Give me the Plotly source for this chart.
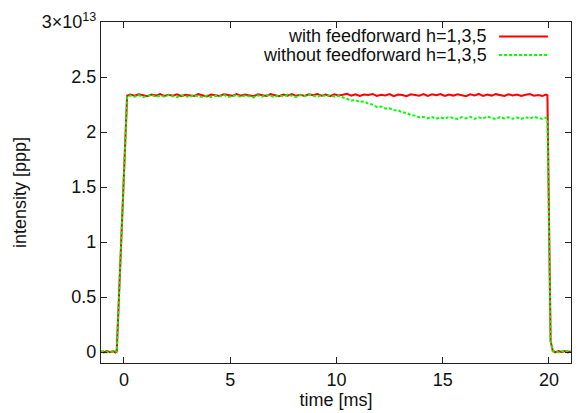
import plotly.graph_objects as go

# time axis [ms]
t_pre = [-1.08, -0.95, -0.8, -0.65, -0.5, -0.4, -0.34]
t_rise = [0.15]
t_plateau = [0.3, 0.5, 0.7, 0.9, 1.1, 1.3, 1.5, 1.7, 1.9, 2.1,
             2.3, 2.5, 2.7, 2.9, 3.1, 3.3, 3.5, 3.7, 3.9, 4.1,
             4.3, 4.5, 4.7, 4.9, 5.1, 5.3, 5.5, 5.7, 5.9, 6.1,
             6.3, 6.5, 6.7, 6.9, 7.1, 7.3, 7.5, 7.7, 7.9, 8.1,
             8.3, 8.5, 8.7, 8.9, 9.1, 9.3, 9.5, 9.7, 9.9, 10.1,
             10.3, 10.5, 10.7, 10.9, 11.1, 11.3, 11.5, 11.7, 11.9, 12.1,
             12.3, 12.5, 12.7, 12.9, 13.1, 13.3, 13.5, 13.7, 13.9, 14.1,
             14.3, 14.5, 14.7, 14.9, 15.1, 15.3, 15.5, 15.7, 15.9, 16.1,
             16.3, 16.5, 16.7, 16.9, 17.1, 17.3, 17.5, 17.7, 17.9, 18.1,
             18.3, 18.5, 18.7, 18.9, 19.1, 19.3, 19.5, 19.7]
t_end = [19.85, 19.93]
t_fall = [20.08, 20.18, 20.3, 20.45, 20.6, 20.75, 20.9, 21.04]
time_ms = t_pre + t_rise + t_plateau + t_end + t_fall

# intensity in units of 1e13 ppp
with_ff = ([0.005, -0.004, 0.009, -0.002, 0.007, -0.005, 0.002]
           + [2.33]
           + [2.340, 2.329, 2.343, 2.332, 2.326, 2.341, 2.331, 2.344, 2.327, 2.338,
              2.330, 2.342, 2.325, 2.339, 2.334, 2.328, 2.344, 2.331, 2.324, 2.340,
              2.336, 2.327, 2.342, 2.338, 2.329, 2.345, 2.330, 2.340, 2.332, 2.325,
              2.343, 2.336, 2.328, 2.344, 2.337, 2.326, 2.341, 2.331, 2.345, 2.329,
              2.339, 2.327, 2.343, 2.334, 2.346, 2.330, 2.340, 2.326, 2.343, 2.333,
              2.339, 2.347, 2.331, 2.343, 2.327, 2.341, 2.336, 2.346, 2.328, 2.339,
              2.333, 2.344, 2.326, 2.341, 2.337, 2.326, 2.343, 2.338, 2.330, 2.345,
              2.328, 2.342, 2.335, 2.345, 2.327, 2.340, 2.331, 2.343, 2.336, 2.325,
              2.342, 2.333, 2.346, 2.328, 2.340, 2.331, 2.344, 2.336, 2.327, 2.343,
              2.332, 2.340, 2.328, 2.339, 2.345, 2.330, 2.337, 2.327]
           + [2.341, 2.334]
           + [0.1, 0.012, -0.004, 0.008, -0.002, 0.009, -0.003, 0.005])

without_ff = ([0.002, 0.009, -0.004, 0.008, -0.001, 0.010, 0.0]
              + [2.325]
              + [2.332, 2.321, 2.336, 2.317, 2.328, 2.339, 2.319, 2.331, 2.324, 2.336,
                 2.325, 2.316, 2.334, 2.327, 2.318, 2.337, 2.322, 2.320, 2.332, 2.316,
                 2.329, 2.323, 2.338, 2.318, 2.327, 2.335, 2.319, 2.331, 2.324, 2.315,
                 2.334, 2.321, 2.339, 2.326, 2.317, 2.336, 2.323, 2.340, 2.329, 2.318,
                 2.337, 2.325, 2.341, 2.328, 2.320, 2.338, 2.326, 2.333, 2.322, 2.328,
                 2.314, 2.304, 2.287, 2.290, 2.273, 2.278, 2.258, 2.249, 2.228, 2.232,
                 2.213, 2.216, 2.198, 2.199, 2.178, 2.174, 2.154, 2.149, 2.134, 2.137,
                 2.124, 2.136, 2.121, 2.134, 2.120, 2.137, 2.126, 2.118, 2.135, 2.124,
                 2.138, 2.119, 2.133, 2.122, 2.140, 2.126, 2.117, 2.136, 2.123, 2.134,
                 2.120, 2.132, 2.119, 2.135, 2.122, 2.139, 2.125, 2.120]
              + [2.131, 2.122]
              + [0.1, 0.006, 0.009, -0.004, 0.008, -0.001, 0.010, 0.002])

SCALE = 1e13
series_names = ["with feedforward h=1,3,5", "without feedforward h=1,3,5"]
series_colors = ["#ff0000", "#00ff00"]

y_tickvals = [0, 0.5, 1, 1.5, 2, 2.5, 3]
y_ticktext = ["0", "0.5", "1", "1.5", "2", "2.5", "3×10<sup>13</sup>"]
x_tickvals = [0, 5, 10, 15, 20]

FONT = "Liberation Sans, Arial, Helvetica, sans-serif"
FS = 18

fig = go.Figure()
fig.add_trace(go.Scatter(x=time_ms, y=[v * SCALE for v in with_ff], mode="lines",
                         name=series_names[0],
                         line=dict(color=series_colors[0], width=2)))
fig.add_trace(go.Scatter(x=time_ms, y=[v * SCALE for v in without_ff], mode="lines",
                         name=series_names[1],
                         line=dict(color=series_colors[1], width=2, dash="3px,2px")))

# gnuplot-style key: right-aligned text, sample line on the right
key_y = [0.9575, 0.903]
for i in range(2):
    fig.add_annotation(xref="paper", yref="paper", x=0.823, y=key_y[i],
                       text=series_names[i], showarrow=False, xanchor="right",
                       yanchor="middle", borderpad=0,
                       font=dict(family=FONT, size=FS, color="#111"))
    fig.add_shape(type="line", xref="paper", yref="paper", x0=0.847, x1=0.951,
                  y0=key_y[i], y1=key_y[i],
                  line=dict(color=series_colors[i], width=2,
                            dash="solid" if i == 0 else "3px,2px"))

axis_common = dict(showline=True, linecolor="#222", linewidth=1.3, mirror="ticks",
                   ticks="inside", ticklen=6, tickwidth=1, tickcolor="#222",
                   showgrid=False, zeroline=False,
                   tickfont=dict(family=FONT, size=FS, color="#111"))

fig.update_layout(
    width=579, height=413,
    margin=dict(l=101, r=8, t=22, b=50),
    paper_bgcolor="white", plot_bgcolor="white",
    showlegend=False,
    font=dict(family=FONT, size=FS, color="#111"),
    xaxis=dict(range=[-1.08, 21.04], tickvals=x_tickvals,
               title=dict(text="time [ms]", standoff=4,
                          font=dict(family=FONT, size=FS)),
               **axis_common),
    yaxis=dict(range=[-0.1 * SCALE, 3 * SCALE], tickvals=[v * SCALE for v in y_tickvals],
               ticktext=y_ticktext,
               title=dict(text="intensity [ppp]", standoff=10,
                          font=dict(family=FONT, size=FS)),
               **axis_common),
)

fig.write_html("out.html")
